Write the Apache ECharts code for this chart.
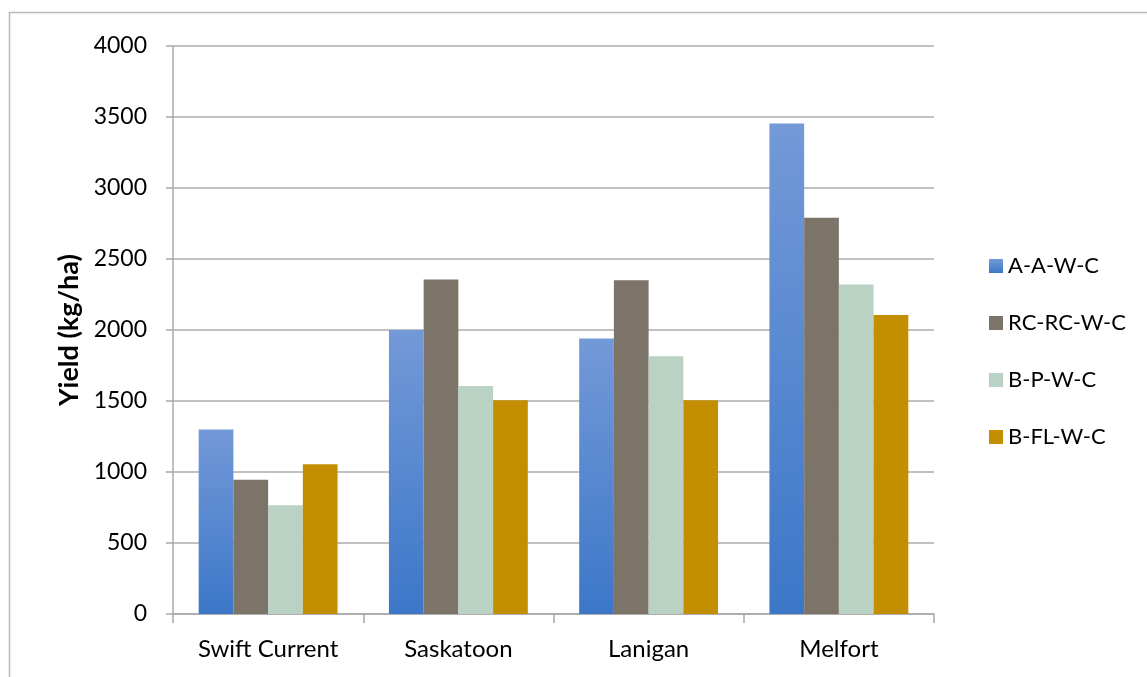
<!DOCTYPE html>
<html>
<head>
<meta charset="utf-8">
<script src="https://cdn.jsdelivr.net/npm/echarts@6/dist/echarts.min.js"></script>
<style>html,body{margin:0;padding:0;background:#fff}#c{width:1147px;height:677px}</style>
</head>
<body>
<div id="c"></div>
<script>
const categories = ['Swift Current', 'Saskatoon', 'Lanigan', 'Melfort'];
const seriesNames = ['A-A-W-C', 'RC-RC-W-C', 'B-P-W-C', 'B-FL-W-C'];
const aawcVals = [1300, 2000, 1940, 3455];
const rcrcwcVals = [945, 2355, 2350, 2790];
const bpwcVals = [765, 1605, 1815, 2320];
const bflwcVals = [1055, 1505, 1505, 2105];
const yTicks = [0, 500, 1000, 1500, 2000, 2500, 3000, 3500, 4000];

const FONT = 'Lato';
const chart = echarts.init(document.getElementById('c'), null, {renderer: 'canvas'});
const blueGrad = new echarts.graphic.LinearGradient(0, 0, 0, 1, [
  {offset: 0, color: '#7399d8'}, {offset: 1, color: '#3c77c8'}
]);
const colors = [blueGrad, '#7d7469', '#b9d2c4', '#c38f00'];
const dataArr = [aawcVals, rcrcwcVals, bpwcVals, bflwcVals];

chart.setOption({
  animation: false,
  graphic: [{
    type: 'rect', left: 7, top: 10,
    shape: {width: 1160, height: 700},
    style: {fill: 'none', stroke: '#b8b8b8', lineWidth: 1.5}, silent: true
  }],
  grid: {left: 173, right: 213, top: 46, bottom: 63, containLabel: false},
  legend: {
    orient: 'vertical', left: 984, top: 250,
    itemWidth: 14, itemHeight: 14, itemGap: 35,
    icon: 'rect',
    textStyle: {fontFamily: FONT, fontSize: 22, color: '#000'},
    data: seriesNames
  },
  xAxis: {
    type: 'category', data: categories,
    axisLine: {lineStyle: {color: '#a8a8a8', width: 1.5}},
    axisTick: {show: true, alignWithLabel: false, length: 9, lineStyle: {color: '#a8a8a8', width: 1.5}},
    axisLabel: {fontFamily: FONT, fontSize: 24, color: '#000', margin: 23}
  },
  yAxis: {
    type: 'value', min: 0, max: 4000, interval: 500,
    name: 'Yield (kg/ha)', nameLocation: 'middle', nameGap: 87,
    nameTextStyle: {fontFamily: FONT, fontSize: 27, fontWeight: 'bold', color: '#000'},
    axisLine: {show: true, lineStyle: {color: '#a8a8a8', width: 1.5}},
    axisTick: {show: true, inside: false, length: 7, lineStyle: {color: '#a8a8a8', width: 1.5}},
    axisLabel: {fontFamily: FONT, fontSize: 23, color: '#000', margin: 26,
      formatter: v => yTicks.includes(v) ? String(v) : ''},
    splitLine: {lineStyle: {color: '#adadad', width: 1.5}}
  },
  series: seriesNames.map((n, i) => ({
    name: n, type: 'bar', data: dataArr[i],
    barGap: '0%', barCategoryGap: '27%',
    itemStyle: {color: colors[i]}
  }))
});
</script>
</body>
</html>
